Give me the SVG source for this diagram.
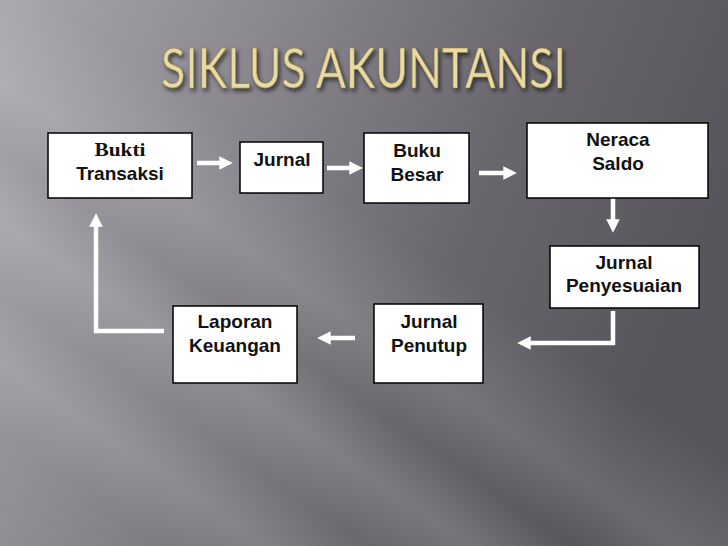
<svg xmlns="http://www.w3.org/2000/svg" width="728" height="546" viewBox="0 0 728 546">
<defs>
<linearGradient id="bg" x1="0" y1="0" x2="1" y2="0.3">
<stop offset="0" stop-color="#a9a6ad"/>
<stop offset="0.35" stop-color="#8a878e"/>
<stop offset="0.7" stop-color="#69676d"/>
<stop offset="1" stop-color="#58565c"/>
</linearGradient>
<linearGradient id="streak" gradientUnits="userSpaceOnUse" x1="200" y1="100" x2="-20" y2="420">
<stop offset="0" stop-color="#fff" stop-opacity="0"/>
<stop offset="0.25" stop-color="#fff" stop-opacity="0.12"/>
<stop offset="0.4" stop-color="#fff" stop-opacity="0"/>
<stop offset="0.55" stop-color="#fff" stop-opacity="0.14"/>
<stop offset="0.7" stop-color="#fff" stop-opacity="0.02"/>
<stop offset="0.85" stop-color="#fff" stop-opacity="0.12"/>
<stop offset="1" stop-color="#fff" stop-opacity="0"/>
</linearGradient>
<filter id="sh" x="-10%" y="-20%" width="120%" height="150%">
<feDropShadow dx="2" dy="3" stdDeviation="2" flood-color="#000" flood-opacity="0.6"/>
</filter>
<marker id="ah" viewBox="0 0 10 10" refX="2" refY="5" markerWidth="3.2" markerHeight="3" markerUnits="strokeWidth" orient="auto">
<path d="M0,0 L10,5 L0,10 z" fill="#fff"/>
</marker>
<style>
.box{fill:#fff;stroke:#000;stroke-width:1.5}
.t{font-family:"Liberation Sans",Arial,sans-serif;font-weight:bold;font-size:19px;fill:#111;text-anchor:middle}
.ts{font-family:"Liberation Serif","Times New Roman",serif;font-weight:bold;font-size:18px;fill:#111;text-anchor:middle}
.c{fill:none;stroke:#fff;stroke-width:4.5;stroke-linejoin:miter}
.title{font-family:Lato,"Open Sans",sans-serif;font-size:57px;fill:#e9daa2;stroke:#8c7a4a;stroke-width:0.6}
</style>
</defs>
<rect width="728" height="546" fill="url(#bg)"/>
<rect width="728" height="546" fill="url(#streak)"/>
<text class="title" x="161" y="88" textLength="405" lengthAdjust="spacingAndGlyphs" filter="url(#sh)">SIKLUS AKUNTANSI</text>

<g id="connectors">
<path class="c" d="M197,163 H222" marker-end="url(#ah)"/>
<path class="c" d="M327,168 H352" marker-end="url(#ah)"/>
<path class="c" d="M479,173 H506" marker-end="url(#ah)"/>
<path class="c" d="M613,198 V222" marker-end="url(#ah)"/>
<path class="c" d="M613,311 V343 H528" marker-end="url(#ah)"/>
<path class="c" d="M355,338 H328" marker-end="url(#ah)"/>
<path class="c" d="M164,331 H96 V224" marker-end="url(#ah)"/>
</g>

<g id="bukti-transaksi">
<rect class="box" x="48" y="133" width="144" height="65"/>
<text class="ts" x="120" y="156" textLength="51" lengthAdjust="spacingAndGlyphs">Bukti</text>
<text class="t" x="120" y="180">Transaksi</text>
</g>
<g id="jurnal">
<rect class="box" x="240" y="142" width="83" height="51"/>
<text class="t" x="282" y="166">Jurnal</text>
</g>
<g id="buku-besar">
<rect class="box" x="364" y="133" width="105" height="70"/>
<text class="t" x="417" y="157">Buku</text>
<text class="t" x="417" y="181">Besar</text>
</g>
<g id="neraca-saldo">
<rect class="box" x="527" y="123" width="181" height="75"/>
<text class="t" x="618" y="146">Neraca</text>
<text class="t" x="618" y="170">Saldo</text>
</g>
<g id="jurnal-penyesuaian">
<rect class="box" x="550" y="246" width="149" height="62"/>
<text class="t" x="624" y="269">Jurnal</text>
<text class="t" x="624" y="292">Penyesuaian</text>
</g>
<g id="jurnal-penutup">
<rect class="box" x="374" y="304" width="109" height="79"/>
<text class="t" x="429" y="328">Jurnal</text>
<text class="t" x="429" y="352">Penutup</text>
</g>
<g id="laporan-keuangan">
<rect class="box" x="173" y="306" width="124" height="77"/>
<text class="t" x="235" y="328">Laporan</text>
<text class="t" x="235" y="352">Keuangan</text>
</g>
</svg>
